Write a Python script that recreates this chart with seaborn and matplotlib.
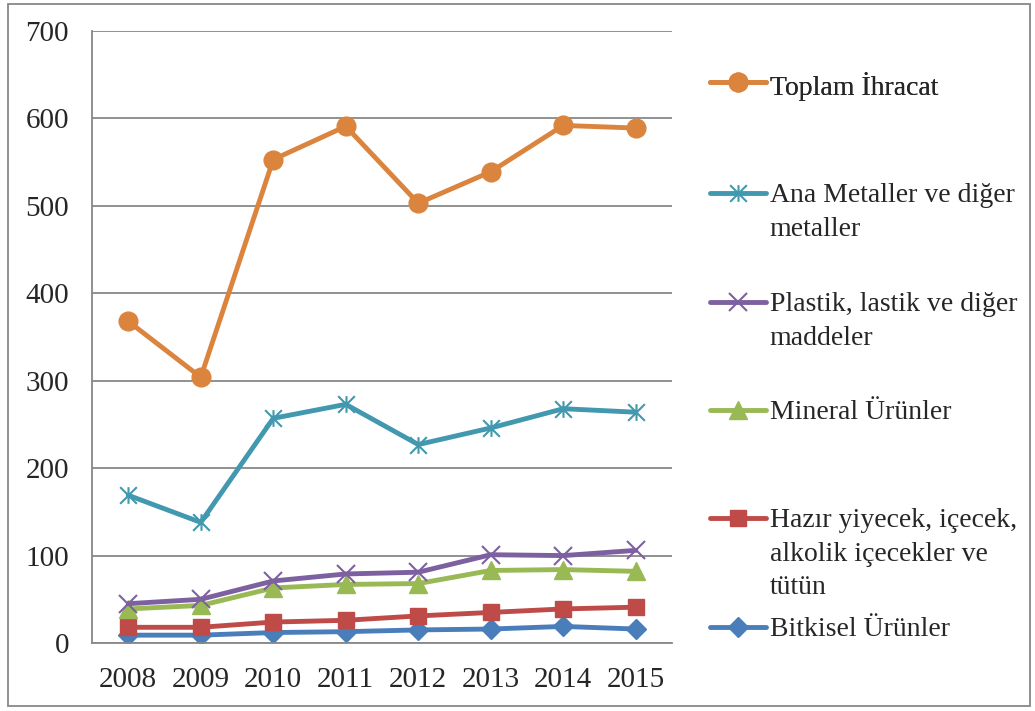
import numpy as np
import matplotlib
matplotlib.use("Agg")
import matplotlib.pyplot as plt
from matplotlib.lines import Line2D
from matplotlib.path import Path
from matplotlib.patches import Rectangle
import seaborn as sns

# data
years = [2008, 2009, 2010, 2011, 2012, 2013, 2014, 2015]
bitkisel = [9, 9, 12, 13, 15, 16, 19, 16]
hazir = [18, 18, 24, 26, 31, 35, 39, 41]
mineral = [39, 43, 63, 67, 68, 83, 84, 82]
plastik = [45, 50, 71, 79, 81, 101, 100, 106]
ana_metal = [169, 138, 257, 273, 227, 246, 268, 264]
toplam = [368, 304, 553, 591, 503, 539, 592, 589]

labels = ["Bitkisel Ürünler",
          "Hazır yiyecek, içecek,\nalkolik içecekler ve\ntütün",
          "Mineral Ürünler",
          "Plastik, lastik ve diğer\nmaddeler",
          "Ana Metaller ve diğer\nmetaller",
          "Toplam İhracat"]

sns.set_style("white")
plt.rcParams['font.family'] = ['Liberation Serif', 'DejaVu Serif']

# excel-like asterisk marker: x plus vertical bar
star = Path([(0, -1), (0, 1), (-1, -1), (1, 1), (-1, 1), (1, -1)],
            [Path.MOVETO, Path.LINETO, Path.MOVETO, Path.LINETO, Path.MOVETO, Path.LINETO])

styles = [
    dict(color="#4A7EBB", marker="D", ms=10, mew=1),
    dict(color="#BE4B48", marker="s", ms=12, mew=1),
    dict(color="#98B954", marker="^", ms=13, mew=1),
    dict(color="#7D60A0", marker="x", ms=13, mew=1.5),
    dict(color="#4198AF", marker=star, ms=12, mew=1.5),
    dict(color="#DB843D", marker="o", ms=13.5, mew=1),
]
series = [bitkisel, hazir, mineral, plastik, ana_metal, toplam]

fig = plt.figure(figsize=(10.35, 7.11), dpi=100)
ax = fig.add_axes([0.0889, 0.0956, 0.5604, 0.8608])

handles = []
for vals, st, lab in zip(series, styles, labels):
    sns.lineplot(x=years, y=vals, ax=ax, color=st["color"], linewidth=3.5,
                 marker=st["marker"], markersize=st["ms"], markeredgewidth=st["mew"],
                 markeredgecolor=st["color"], markerfacecolor=st["color"])
    handles.append(Line2D([], [], color=st["color"], linewidth=3.5, marker=st["marker"],
                          markersize=st["ms"], markeredgewidth=st["mew"],
                          markeredgecolor=st["color"], markerfacecolor=st["color"]))

ax.set_xlim(2007.5, 2015.5)
ax.set_ylim(0, 700)
ax.set_yticks(np.arange(0, 701, 100))
ax.set_xticks(years)
ax.set_xticks(np.arange(2007.5, 2016, 1), minor=True)
ax.yaxis.grid(True, color="#888888", linewidth=1.3)
ax.set_axisbelow(True)
ax.tick_params(axis="x", which="major", length=0, pad=17, labelsize=21)
ax.tick_params(axis="x", which="minor", length=6.5, width=1.3, color="#888888", direction="out")
ax.tick_params(axis="y", length=6.5, width=1.3, color="#888888", direction="out", pad=10, labelsize=21)
ax.set_xlabel("")
ax.set_ylabel("")
for s in ["top", "right"]:
    ax.spines[s].set_visible(False)
for s in ["left", "bottom"]:
    ax.spines[s].set_color("#888888")
    ax.spines[s].set_linewidth(1.3)

# legend entries placed one by one, excel style
tops = [617, 508, 400, 292, 183, 72]
for h, lab, top in zip(handles, labels, tops):
    leg = ax.legend([h], [lab], loc="upper left", bbox_to_anchor=(0.686, 1 - top / 711),
                    bbox_transform=fig.transFigure, frameon=False, fontsize=20,
                    borderpad=0, borderaxespad=0, handlelength=2.0, handletextpad=0.15)
    for t in leg.get_texts():
        t.set_linespacing(1.45)
    for item in leg._legend_handle_box.get_children()[0].get_children():
        item.align = "top"
    ax.add_artist(leg)

fig.add_artist(Rectangle((8 / 1035, 5 / 711), 1022 / 1035, 702 / 711,
                         transform=fig.transFigure, fill=False,
                         edgecolor="#888888", linewidth=1.3))

fig.savefig("out.png", dpi=100)
